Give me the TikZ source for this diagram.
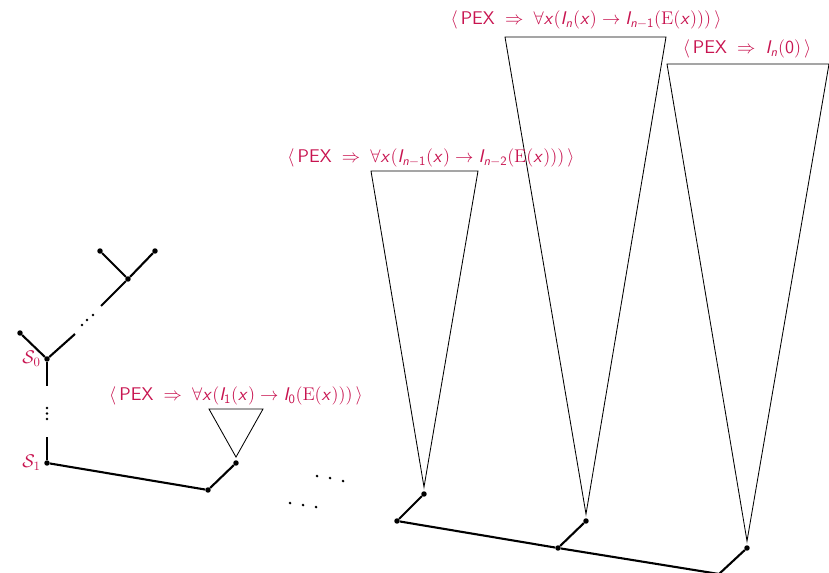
\documentclass[tikz,border=0pt]{standalone}
\usepackage{amssymb}
\usetikzlibrary{positioning}
\DeclareMathAlphabet{\mathsfit}{OT1}{cmss}{m}{sl}
\definecolor{pexred}{RGB}{200,20,80}
\newcommand{\vI}{\mathsfit{I}}
\newcommand{\vx}{\mathsfit{x}}
\newcommand{\pex}{\langle\,\textsf{PEX}\;\Rightarrow\;}
\tikzset{dot/.style = {circle, fill, inner sep=0pt, minimum size=5.5pt},
         tiny/.style = {circle, fill, inner sep=0pt, minimum size=3pt},
         branch/.style = {line width=2.1pt},
         cone/.style = {line width=0.85pt},
         lbl/.style = {text=pexred, font=\Large, scale=1.28},
         sname/.style = {text=pexred, font=\Large, scale=1.28, left=-1pt}}

\begin{document}
\begin{tikzpicture}[x=1bp, y=-1bp]
  \useasboundingbox (0,0) rectangle (829,573);
  % left tree
  \node [dot] (la) at (100,251) {};
  \node [dot] (lb) at (155,251) {};
  \node [dot] (lj) at (128,279) {};
  \coordinate (lu) at (101,306);
  \coordinate (lv) at (75,334);
  \node [dot] (s0) at (47,359) {};
  \node [dot] (lc) at (20,333) {};
  \coordinate (sa) at (47,386);
  \coordinate (sb) at (47,437);
  \node [dot] (s1) at (47,463) {};
  \node [sname] at (s0.west) {$\mathcal{S}_0$};
  \node [sname] at (s1.west) {$\mathcal{S}_1$};
  \draw [branch] (la) -- (lj) -- (lb);
  \draw [branch] (lj) -- (lu);
  \draw [branch] (lv) -- (s0) -- (lc);
  \draw [branch] (s0) -- (sa);
  \draw [branch] (sb) -- (s1);
  \node [tiny] at (82,325) {};
  \node [tiny] at (87,320) {};
  \node [tiny] at (93,315) {};
  \node [tiny] at (47,408) {};
  \node [tiny] at (47,413.5) {};
  \node [tiny] at (47,419) {};
  % first branch
  \node [dot] (p0) at (208,490) {};
  \node [dot] (q0) at (236,463) {};
  \draw [branch] (s1) -- (p0) -- (q0);
  \draw [cone] (209,409) -- (263,409) -- ([yshift=3bp]q0.north) -- cycle;
  \node [lbl] at (236,396) {$\pex\forall\vx(\vI_{\mathsf{1}}(\vx)\to\vI_{\mathsf{0}}(\mathrm{E}(\vx)))\,\rangle$};
  % dots in between
  \node [tiny] at (317,476) {};
  \node [tiny] at (330,478) {};
  \node [tiny] at (343,481) {};
  \node [tiny] at (290,503) {};
  \node [tiny] at (303,505) {};
  \node [tiny] at (316,507) {};
  % last branches
  \node [dot] (p1) at (397,521) {};
  \node [dot] (q1) at (424,494) {};
  \node [dot] (p2) at (558,548) {};
  \node [dot] (q2) at (586,521) {};
  \coordinate (p3) at (719,574);
  \node [dot] (q3) at (747,548) {};
  \draw [branch] (q1) -- (p1) -- (p2) -- (p3) -- (q3);
  \draw [branch] (p2) -- (q2);
  \draw [cone] (371,171) -- (478,171) -- ([yshift=4bp]q1.north) -- cycle;
  \draw [cone] (505,37) -- (666,37) -- ([yshift=4bp]q2.north) -- cycle;
  \draw [cone] (667,64) -- (829,64) -- ([yshift=4bp]q3.north) -- cycle;
  \node [lbl] at (431,158) {$\pex\forall\vx(\vI_{\mathsfit{n}-\mathsf{1}}(\vx)\to\vI_{\mathsfit{n}-\mathsf{2}}(\mathrm{E}(\vx)))\,\rangle$};
  \node [lbl] at (586,20) {$\pex\forall\vx(\vI_{\mathsfit{n}}(\vx)\to\vI_{\mathsfit{n}-\mathsf{1}}(\mathrm{E}(\vx)))\,\rangle$};
  \node [lbl] at (747,49) {$\pex\vI_{\mathsfit{n}}(\mathsf{0})\,\rangle$};
\end{tikzpicture}
\end{document}
